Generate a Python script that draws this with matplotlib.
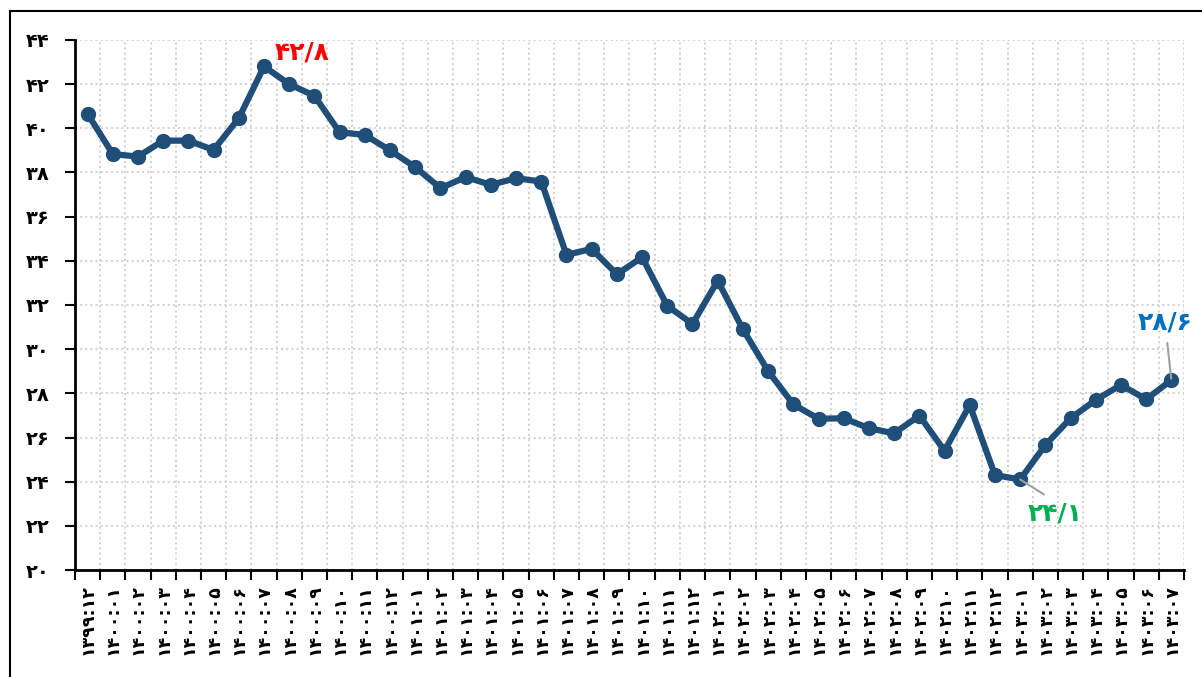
import matplotlib.pyplot as plt
from matplotlib.lines import Line2D

fa = str.maketrans("0123456789", "۰۱۲۳۴۵۶۷۸۹")

# months from 1399:12 to 1403:07
months = ["1399:12"] + ["%d:%02d" % (y, m) for y in (1400, 1401, 1402) for m in range(1, 13)] \
    + ["1403:%02d" % m for m in range(1, 8)]
labels = [s.translate(fa) for s in months]

values = [40.65, 38.83, 38.72, 39.44, 39.44, 39.02, 40.46, 42.8, 42.0, 41.47,
          39.82, 39.7, 39.0, 38.24, 37.29, 37.79, 37.44, 37.74, 37.59, 34.27,
          34.54, 33.39, 34.16, 31.96, 31.14, 33.1, 30.9, 29.01, 27.5, 26.85,
          26.87, 26.42, 26.19, 26.99, 25.4, 27.47, 24.3, 24.1, 25.66, 26.87,
          27.7, 28.38, 27.73, 28.6]

yticks = list(range(20, 45, 2))
ytick_labels = [str(v).translate(fa) for v in yticks]

# highlighted points: index, text, colour
notes = [(7, "42/8", "#FF0000"), (37, "24/1", "#00B050"), (43, "28/6", "#0070C0")]

fig = plt.figure(figsize=(12.02, 6.77), dpi=100)
ax = fig.add_axes([0.0624, 0.158, 0.9226, 0.783])

x = list(range(len(values)))
ax.plot(x, values, color="#1F4E79", lw=4.5, marker="o", ms=10, zorder=3)

ax.set_xlim(-0.5, len(values) - 0.5)
ax.set_ylim(20, 44)
ax.set_yticks(yticks)
ax.set_yticklabels(ytick_labels, fontsize=14, fontweight="bold")

# ticks + grid on category boundaries, labels centred on points
ax.set_xticks([i - 0.5 for i in range(len(values) + 1)])
ax.set_xticklabels([])
ax.set_xticks(x, minor=True)
ax.set_xticklabels(labels, minor=True, rotation=90, fontsize=12.5, fontweight="bold")
ax.tick_params(axis="x", which="minor", length=0, pad=10)
ax.tick_params(axis="x", which="major", length=7, width=1.5, direction="out")
ax.tick_params(axis="y", length=7, width=1.5, direction="out", pad=11)

ax.grid(True, which="major", color="#D0D0D0", ls=":", lw=1.4)
ax.set_axisbelow(True)
for s in ("top", "right"):
    ax.spines[s].set_visible(False)
for s in ("left", "bottom"):
    ax.spines[s].set_linewidth(2)

i, t, c = notes[0]
ax.text(i + 1.5, 43.45, t.translate(fa), color=c, fontsize=18, fontweight="bold",
        ha="center", va="center")
i, t, c = notes[1]
ax.annotate(t.translate(fa), xy=(i, values[i]), xytext=(i + 1.4, 22.55), color=c,
            fontsize=18, fontweight="bold", ha="center", va="center",
            arrowprops=dict(arrowstyle="-", color="#A0A0A0", lw=1.5, shrinkA=6, shrinkB=0,
                            relpos=(0.5, 1)))
i, t, c = notes[2]
ax.annotate(t.translate(fa), xy=(i, values[i]), xytext=(i - 0.25, 31.2), color=c,
            fontsize=18, fontweight="bold", ha="center", va="center",
            arrowprops=dict(arrowstyle="-", color="#A0A0A0", lw=1.5, shrinkA=4, shrinkB=1))

# outer frame (only top and left edges visible in the reference)
fig.add_artist(Line2D([10 / 1202, 1], [1 - 11 / 677, 1 - 11 / 677], color="black", lw=1.5))
fig.add_artist(Line2D([10 / 1202, 10 / 1202], [0, 1 - 11 / 677], color="black", lw=1.5))

fig.savefig("out.png", dpi=100)
